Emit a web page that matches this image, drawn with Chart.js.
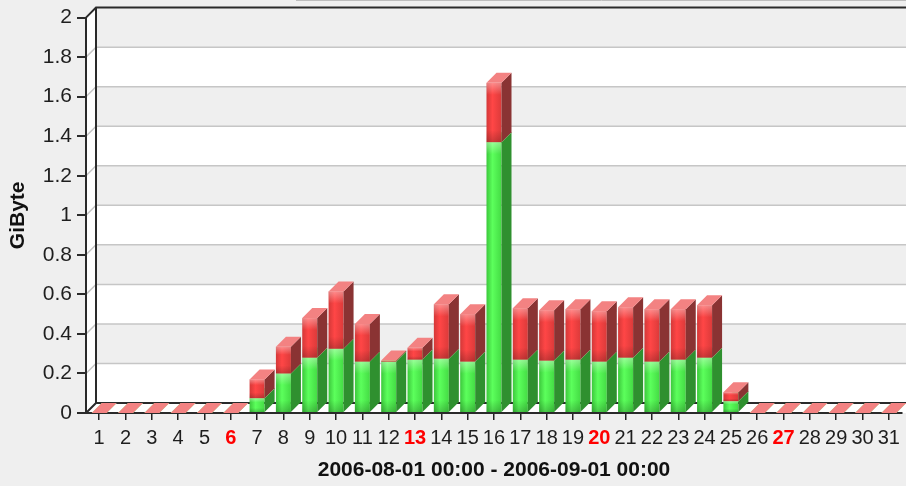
<!DOCTYPE html>
<html>
<head>
<meta charset="utf-8">
<script src="https://cdn.jsdelivr.net/npm/chart.js@4/dist/chart.umd.min.js"></script>
<style>
  html, body { margin: 0; padding: 0; background: #efefef; }
  #wrap { width: 906px; height: 486px; position: relative; }
</style>
</head>
<body>
<div id="wrap"><canvas id="c" width="906" height="486"></canvas></div>
<script>
// ---- data ----
const days = ['1','2','3','4','5','6','7','8','9','10','11','12','13','14','15','16',
              '17','18','19','20','21','22','23','24','25','26','27','28','29','30','31'];
const sundays = ['6','13','20','27'];
const greenValues = [0,0,0,0,0,0,0.075,0.2,0.28,0.325,0.26,0.26,0.27,0.275,0.26,1.37,
                     0.27,0.265,0.27,0.26,0.28,0.26,0.27,0.28,0.06,0,0,0,0,0,0];
const redValues   = [0,0,0,0,0,0,0.095,0.135,0.2,0.29,0.19,0.005,0.06,0.275,0.24,0.3,
                     0.26,0.255,0.255,0.255,0.255,0.265,0.255,0.265,0.045,0,0,0,0,0,0];
const yTickValues = [0,0.2,0.4,0.6,0.8,1,1.2,1.4,1.6,1.8,2];
const yTickLabels = ['0','0.2','0.4','0.6','0.8','1','1.2','1.4','1.6','1.8','2'];
const yTitle = 'GiByte';
const xTitle = '2006-08-01 00:00 - 2006-09-01 00:00';

// ---- style ----
const FONT = "'Liberation Sans', Arial, sans-serif";
const DX = 10, DY = 10;

const wall3d = {
  id: 'wall3d',
  beforeDraw(chart) {
    const { ctx, chartArea: a, scales: { y } } = chart;
    const right = chart.width + 20;
    ctx.save();
    for (let k = 0; k < yTickValues.length - 1; k++) {
      const y0 = y.getPixelForValue(yTickValues[k]) - DY;
      const y1 = y.getPixelForValue(yTickValues[k + 1]) - DY;
      ctx.fillStyle = (k % 2) ? '#efefef' : '#ffffff';
      ctx.fillRect(a.left + DX, y1, right, y0 - y1);
    }
    ctx.fillStyle = '#ffffff';
    ctx.beginPath();
    ctx.moveTo(a.left, a.top); ctx.lineTo(a.left + DX, a.top - DY);
    ctx.lineTo(a.left + DX, a.bottom - DY); ctx.lineTo(a.left, a.bottom);
    ctx.closePath(); ctx.fill();
    ctx.beginPath();
    ctx.moveTo(a.left, a.bottom); ctx.lineTo(a.left + DX, a.bottom - DY);
    ctx.lineTo(right, a.bottom - DY); ctx.lineTo(right, a.bottom);
    ctx.closePath(); ctx.fill();
    ctx.strokeStyle = '#c6c6c6'; ctx.lineWidth = 1.5;
    for (let k = 1; k < yTickValues.length - 1; k++) {
      const py = y.getPixelForValue(yTickValues[k]);
      ctx.beginPath();
      ctx.moveTo(a.left, py); ctx.lineTo(a.left + DX, py - DY); ctx.lineTo(right, py - DY);
      ctx.stroke();
    }
    ctx.strokeStyle = '#2a2a2a'; ctx.lineWidth = 2;
    ctx.beginPath();
    ctx.moveTo(a.left, a.top); ctx.lineTo(a.left + DX, a.top - DY); ctx.lineTo(right, a.top - DY);
    ctx.moveTo(a.left + DX, a.top - DY); ctx.lineTo(a.left + DX, a.bottom - DY); ctx.lineTo(right, a.bottom - DY);
    ctx.moveTo(a.left, a.bottom); ctx.lineTo(a.left + DX, a.bottom - DY);
    ctx.stroke();
    ctx.strokeStyle = '#bdbdbd'; ctx.lineWidth = 1;
    ctx.beginPath(); ctx.moveTo(296, 0.5); ctx.lineTo(right, 0.5); ctx.stroke();
    ctx.restore();
  }
};

const styles = [
  { h: ['#3cc83c', '#5cff5c', '#44dc44'], side: '#2f902f', top: '#8cf78c' },
  { h: ['#d43838', '#ff4646', '#dc3a3a'], side: '#8a3333', top: '#f38282' }
];

const bars3d = {
  id: 'bars3d',
  afterDatasetsDraw(chart) {
    const ctx = chart.ctx;
    const metas = [chart.getDatasetMeta(0), chart.getDatasetMeta(1)];
    ctx.save();
    for (let i = 0; i < days.length; i++) {
      for (let s = 0; s < 2; s++) {
        const el = metas[s].data[i];
        const p = el.getProps(['x', 'y', 'base', 'width'], true);
        const st = styles[s];
        const l = p.x - p.width / 2, r = p.x + p.width / 2;
        const top = Math.min(p.y, p.base), bot = Math.max(p.y, p.base);
        if (bot - top > 0.5) {
          const g = ctx.createLinearGradient(l, 0, r, 0);
          g.addColorStop(0, st.h[0]); g.addColorStop(0.4, st.h[1]); g.addColorStop(1, st.h[2]);
          ctx.fillStyle = g;
          ctx.fillRect(l, top, r - l, bot - top);
          const v = ctx.createLinearGradient(0, top, 0, bot);
          v.addColorStop(0, 'rgba(255,255,255,0.38)');
          v.addColorStop(Math.min(0.3, 12 / (bot - top)), 'rgba(255,255,255,0)');
          v.addColorStop(Math.max(0.7, 1 - 12 / (bot - top)), 'rgba(0,0,0,0)');
          v.addColorStop(1, 'rgba(0,0,0,0.2)');
          ctx.fillStyle = v;
          ctx.fillRect(l, top, r - l, bot - top);
          ctx.fillStyle = st.side;
          ctx.beginPath();
          ctx.moveTo(r, top); ctx.lineTo(r + DX, top - DY);
          ctx.lineTo(r + DX, bot - DY); ctx.lineTo(r, bot);
          ctx.closePath(); ctx.fill();
        }
        ctx.fillStyle = st.top;
        ctx.beginPath();
        ctx.moveTo(l, top); ctx.lineTo(l + DX, top - DY);
        ctx.lineTo(r + DX, top - DY); ctx.lineTo(r, top);
        ctx.closePath(); ctx.fill();
      }
    }
    ctx.restore();
  }
};

const isSunday = (ctx) => sundays.includes(days[ctx.index]);

new Chart(document.getElementById('c'), {
  type: 'bar',
  data: {
    labels: days,
    datasets: [
      { label: 'in', data: greenValues, backgroundColor: 'rgba(0,0,0,0)', borderWidth: 0 },
      { label: 'out', data: redValues, backgroundColor: 'rgba(0,0,0,0)', borderWidth: 0 }
    ]
  },
  options: {
    responsive: false,
    animation: false,
    devicePixelRatio: 1,
    layout: { padding: { top: 13, right: 3, left: 0, bottom: 0 } },
    datasets: { bar: { categoryPercentage: 1, barPercentage: 0.57 } },
    plugins: { legend: { display: false }, tooltip: { enabled: false } },
    scales: {
      x: {
        stacked: true,
        offset: true,
        grid: { display: true, drawOnChartArea: false, drawTicks: true, tickLength: 7, color: '#222', lineWidth: 1.5, offset: false },
        border: { display: true, color: '#2a2a2a', width: 2 },
        ticks: {
          autoSkip: false, maxRotation: 0, minRotation: 0, padding: 6,
          color: (c) => isSunday(c) ? '#ff0000' : '#1e1e1e',
          font: (c) => ({ family: FONT, size: 20, weight: isSunday(c) ? 'bold' : 'normal' })
        },
        title: { display: true, text: xTitle, color: '#111', font: { family: FONT, size: 21, weight: 'bold' }, padding: { top: 0, bottom: 3 } },
        afterFit: (s) => { s.height = 73; }
      },
      y: {
        stacked: true,
        min: 0, max: 2,
        grid: { display: true, drawOnChartArea: false, drawTicks: true, tickLength: 9, color: '#2a2a2a', lineWidth: 2 },
        border: { display: true, color: '#2a2a2a', width: 2 },
        ticks: {
          stepSize: 0.2, padding: 5, color: '#1e1e1e',
          font: { family: FONT, size: 21 },
          callback: (v) => {
            const idx = yTickValues.findIndex(t => Math.abs(t - v) < 1e-6);
            return idx >= 0 ? yTickLabels[idx] : '';
          }
        },
        title: { display: true, text: yTitle, color: '#111', font: { family: FONT, size: 21, weight: 'bold' }, padding: { top: 6, bottom: 0 } },
        afterFit: (s) => { s.width = 86; }
      }
    }
  },
  plugins: [wall3d, bars3d]
});
</script>
</body>
</html>
